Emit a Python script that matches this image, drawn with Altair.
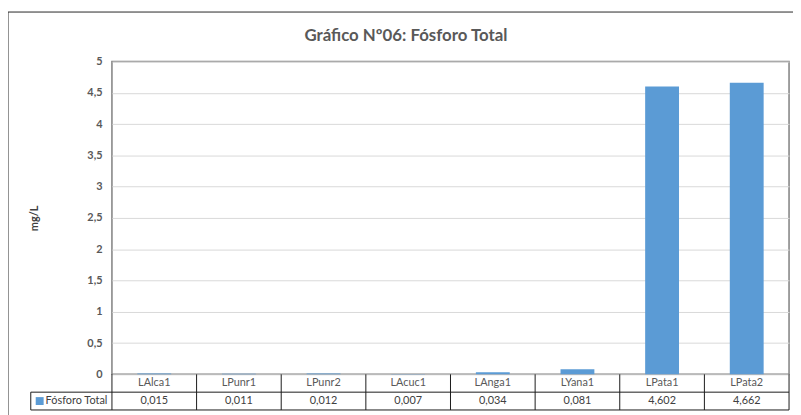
import altair as alt
import pandas as pd

cats = ["LAlca1", "LPunr1", "LPunr2", "LAcuc1", "LAnga1", "LYana1", "LPata1", "LPata2"]
vals = [0.015, 0.011, 0.012, 0.007, 0.034, 0.081, 4.602, 4.662]
series_name = "Fósforo Total"
yticks = [0, 0.5, 1, 1.5, 2, 2.5, 3, 3.5, 4, 4.5, 5]
chart_title = "Gráfico Nº06: Fósforo Total"
y_title = "mg/L"

W, H = 684, 316
FONT = "Lato"
ROW = 18
BLUE = "#5b9bd5"
LINE = "#1a1a1a"

df = pd.DataFrame({"cat": cats, "value": vals})
df["label"] = [f"{v:.3f}".replace(".", ",") for v in vals]
bounds = pd.DataFrame({"b": list(range(len(cats) + 1))})
one = pd.DataFrame({"k": [0]})

xband = alt.X("cat:N", sort=cats,
              scale=alt.Scale(paddingInner=0.6, paddingOuter=0.3), axis=None)

frame = alt.Chart(one).mark_rect(filled=False, stroke="#262626", strokeWidth=1).encode(
    x=alt.value(-105), x2=alt.value(W + 30), y=alt.value(-50), y2=alt.value(H + 90)
)

title = alt.Chart(one).mark_text(
    text=chart_title, font=FONT, fontSize=17, fontWeight="bold", color="#595959",
    align="center", baseline="alphabetic"
).encode(x=alt.value(297), y=alt.value(-21))

bars = alt.Chart(df).mark_bar(color=BLUE).encode(
    x=xband,
    y=alt.Y("value:Q", scale=alt.Scale(domain=[0, 5], nice=False),
            axis=alt.Axis(values=yticks, title=y_title,
                          labelExpr="replace(format(datum.value, '~g'), '.', ',')",
                          labelFont=FONT, labelFontSize=11, labelFontWeight="bold",
                          labelColor="#595959", labelPadding=10, ticks=False, domain=False,
                          gridColor="#d9d9d9", gridWidth=1,
                          titleFont=FONT, titleFontSize=11, titleFontWeight="bold",
                          titleColor="#404040", titleAngle=270, titleX=-78, titleY=H / 2,
                          titleBaseline="middle", titleAlign="center")),
)

vrules = alt.Chart(bounds).mark_rule(color=LINE, strokeWidth=1).encode(
    x=alt.X("b:Q", scale=alt.Scale(domain=[0, len(cats)], nice=False, zero=False), axis=None),
    y=alt.value(H), y2=alt.value(H + 2 * ROW),
)

hline1 = alt.Chart(one).mark_rule(color=LINE, strokeWidth=1).encode(
    x=alt.value(-82), x2=alt.value(W), y=alt.value(H + ROW))
hline2 = alt.Chart(one).mark_rule(color=LINE, strokeWidth=1).encode(
    x=alt.value(-82), x2=alt.value(W), y=alt.value(H + 2 * ROW))
vleft = alt.Chart(one).mark_rule(color=LINE, strokeWidth=1).encode(
    x=alt.value(-82), y=alt.value(H + ROW), y2=alt.value(H + 2 * ROW))

cat_text = alt.Chart(df).mark_text(font=FONT, fontSize=11, color="#595959").encode(
    x=xband, y=alt.value(H + ROW / 2), text="cat:N")
val_text = alt.Chart(df).mark_text(font=FONT, fontSize=11, color="#404040").encode(
    x=xband, y=alt.value(H + 1.5 * ROW), text="label:N")

leg_sq = alt.Chart(one).mark_square(size=64, color=BLUE, filled=True, opacity=1).encode(
    x=alt.value(-73), y=alt.value(H + 1.5 * ROW))
leg_txt = alt.Chart(one).mark_text(text=series_name, font=FONT, fontSize=11,
                                   color="#404040", align="left").encode(
    x=alt.value(-67), y=alt.value(H + 1.5 * ROW))

chart = alt.layer(
    frame, title, bars, vrules, hline1, hline2, vleft, cat_text, val_text, leg_sq, leg_txt
).resolve_scale(x="independent").properties(
    width=W, height=H,
    autosize=alt.AutoSizeParams(type="none"),
    padding={"left": 105, "top": 52, "right": 4, "bottom": 39},
).configure_view(stroke="#808080", strokeWidth=1.5)

chart.save("out.html", embed_options={"renderer": "svg", "actions": False})
